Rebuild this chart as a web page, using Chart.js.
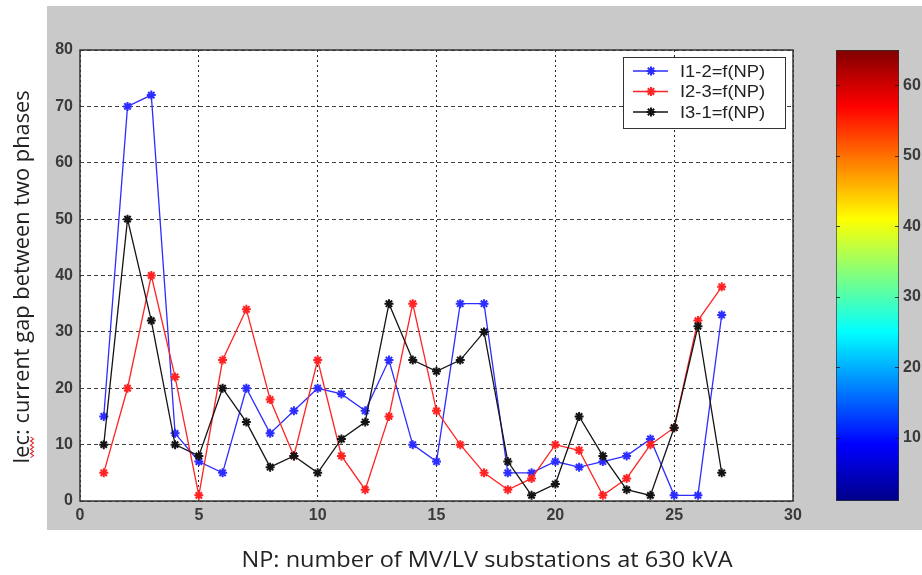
<!DOCTYPE html>
<html>
<head>
<meta charset="utf-8">
<script src="https://cdn.jsdelivr.net/npm/chart.js@4.4.1/dist/chart.umd.min.js"></script>
<style>
  html, body { margin: 0; padding: 0; background: #fff; }
  #wrap { position: relative; width: 922px; height: 575px; overflow: hidden; }
  #main { position: absolute; left: 0; top: 0; }
  #cbar { position: absolute; left: 800px; top: 0; }
</style>
</head>
<body>
<div id="wrap">
  <canvas id="main" width="922" height="575"></canvas>
  <canvas id="cbar" width="122" height="575"></canvas>
</div>
<script>
// Number of MV/LV substations (x values)
const np = [1, 2, 3, 4, 5, 6, 7, 8, 9, 10, 11, 12, 13, 14, 15, 16, 17, 18, 19, 20, 21, 22, 23, 24, 25, 26, 27];
// Current gap between phases for each substation count
const i12 = [15, 70, 72, 12, 7, 5, 20, 12, 16, 20, 19, 16, 25, 10, 7, 35, 35, 5, 5, 7, 6, 7, 8, 11, 1, 1, 33];
const i23 = [5, 20, 40, 22, 1, 25, 34, 18, 8, 25, 8, 2, 15, 35, 16, 10, 5, 2, 4, 10, 9, 1, 4, 10, 13, 32, 38];
const i31 = [10, 50, 32, 10, 8, 20, 14, 6, 8, 5, 11, 14, 35, 25, 23, 25, 30, 7, 1, 3, 15, 8, 2, 1, 13, 31, 5];
const seriesLabels = ['I1-2=f(NP)', 'I2-3=f(NP)', 'I3-1=f(NP)'];

// Axis ranges and ticks
const xRange = [0, 30];
const xStep = 5;
const yRange = [0, 80];
const yStep = 10;

// Colour bar (jet colormap) range and tick labels
const cbRange = [1, 65];
const cbTicks = [10, 20, 30, 40, 50, 60];
const jetStops = [[0, '#000088'], [0.125, '#0000ff'], [0.375, '#00ffff'], [0.625, '#ffff00'], [0.875, '#ff0000'], [1, '#800000']];

const xTitle = 'NP: number of MV/LV substations at 630 kVA';
const yTitle = 'Iec: current gap between two phases';

const tickFont = { family: 'Liberation Sans', size: 16, weight: 'bold' };
const tickColor = '#3a3a3a';

const toPoints = ys => np.map((x, i) => ({ x, y: ys[i] }));

function series(label, ys, color, order) {
  return {
    label, data: toPoints(ys), order,
    borderColor: color, backgroundColor: color,
    borderWidth: 1.3, showLine: true, tension: 0,
    pointStyle: 'star', pointRadius: 4.5, pointBorderWidth: 2,
    pointBorderColor: color, pointBackgroundColor: color
  };
}

// Grey figure background, white axes area and the box around it
const figureFrame = {
  id: 'figureFrame',
  beforeDraw(chart) {
    const { ctx, chartArea: a } = chart;
    ctx.save();
    ctx.fillStyle = '#ffffff';
    ctx.fillRect(0, 0, chart.width, chart.height);
    ctx.fillStyle = '#c9c9c9';
    ctx.fillRect(47, 6, chart.width - 47, 524);
    ctx.fillStyle = '#ffffff';
    ctx.fillRect(a.left, a.top, a.right - a.left, a.bottom - a.top);
    ctx.restore();
  },
  beforeDatasetsDraw(chart) {
    const { ctx, chartArea: a } = chart;
    ctx.save();
    ctx.strokeStyle = '#333';
    ctx.lineWidth = 1.5;
    ctx.strokeRect(a.left, a.top, a.right - a.left, a.bottom - a.top);
    ctx.restore();
  }
};

// Boxed legend in the upper right corner of the axes: line + marker + label
const boxLegend = {
  id: 'boxLegend',
  afterDatasetsDraw(chart) {
    const { ctx, chartArea: a } = chart;
    const x0 = a.right - 170, y0 = a.top + 7, w = 162, h = 71;
    ctx.save();
    ctx.fillStyle = '#fff';
    ctx.fillRect(x0, y0, w, h);
    ctx.strokeStyle = '#333';
    ctx.lineWidth = 1;
    ctx.strokeRect(x0 + 0.5, y0 + 0.5, w, h);
    ctx.font = '17px "Liberation Sans"';
    ctx.textBaseline = 'middle';
    chart.data.datasets.forEach((ds, i) => {
      const y = y0 + 14 + i * 20.5;
      ctx.strokeStyle = ds.borderColor;
      ctx.lineWidth = 1.3;
      ctx.beginPath();
      ctx.moveTo(x0 + 10, y);
      ctx.lineTo(x0 + 45, y);
      ctx.stroke();
      ctx.lineWidth = 2;
      Chart.helpers.drawPoint(ctx, { pointStyle: 'star', radius: 4.5, borderWidth: 2, rotation: 0 }, x0 + 28, y);
      ctx.fillStyle = '#222';
      ctx.save();
      ctx.translate(x0 + 57, y + 1);
      ctx.scale(1.08, 1);
      ctx.fillText(ds.label, 0, 0);
      ctx.restore();
    });
    ctx.restore();
  }
};

// Axis titles (the x title sits under the whole figure, the y title left of it)
const axisTitles = {
  id: 'axisTitles',
  afterDraw(chart) {
    const { ctx } = chart;
    ctx.save();
    ctx.fillStyle = '#222';
    ctx.textAlign = 'center';
    ctx.textBaseline = 'middle';

    ctx.save();
    ctx.translate(487, 561);
    ctx.scale(1.07, 1);
    ctx.font = '22px "Open Sans"';
    ctx.fillText(xTitle, 0, 0);
    ctx.restore();

    ctx.translate(23, 277);
    ctx.rotate(-Math.PI / 2);
    ctx.scale(1.04, 1);
    ctx.font = '21px "Open Sans"';
    ctx.fillText(yTitle, 0, 0);
    // red wavy underline under "ec" (spell-check mark)
    const full = ctx.measureText(yTitle).width;
    const start = -full / 2 + ctx.measureText('I').width;
    const end = -full / 2 + ctx.measureText('Iec').width;
    ctx.strokeStyle = '#e02020';
    ctx.lineWidth = 1;
    ctx.beginPath();
    for (let x = start, k = 0; x <= end; x += 2, k++) {
      const y = 9 + (k % 2 ? 1.5 : -1.5);
      if (k === 0) ctx.moveTo(x, y); else ctx.lineTo(x, y);
    }
    ctx.stroke();
    ctx.restore();
  }
};

new Chart(document.getElementById('main'), {
  type: 'scatter',
  data: {
    datasets: [
      series(seriesLabels[0], i12, 'rgb(45,45,255)', 2),
      series(seriesLabels[1], i23, 'rgb(255,35,35)', 1),
      series(seriesLabels[2], i31, 'rgb(20,20,20)', 0)
    ]
  },
  options: {
    responsive: false,
    animation: false,
    devicePixelRatio: 1,
    layout: { padding: { left: 0, top: 50, right: 129, bottom: 0 } },
    plugins: { legend: { display: false }, tooltip: { enabled: false } },
    scales: {
      x: {
        type: 'linear', min: xRange[0], max: xRange[1],
        afterFit: s => { s.height = 74; },
        ticks: { stepSize: xStep, padding: 5, font: tickFont, color: tickColor },
        grid: { color: 'rgba(0,0,0,0.85)', lineWidth: 1, drawTicks: false },
        border: { display: false, dash: [2, 3] }
      },
      y: {
        type: 'linear', min: yRange[0], max: yRange[1],
        afterFit: s => { s.width = 80; },
        ticks: { stepSize: yStep, padding: 7, font: tickFont, color: tickColor },
        grid: { color: 'rgba(0,0,0,0.75)', lineWidth: 1, drawTicks: false },
        border: { display: false, dash: [4, 3] }
      }
    }
  },
  plugins: [figureFrame, boxLegend, axisTitles]
});

// Colour bar drawn as a single floating bar filled with the jet gradient
function jetGradient(context) {
  const { chart } = context;
  const a = chart.chartArea;
  if (!a) return '#0000ff';
  const g = chart.ctx.createLinearGradient(0, a.bottom, 0, a.top);
  jetStops.forEach(([p, c]) => g.addColorStop(p, c));
  return g;
}

const cbTickMarks = {
  id: 'cbTickMarks',
  afterDatasetsDraw(chart) {
    const { ctx, chartArea: a, scales: { y } } = chart;
    ctx.save();
    ctx.strokeStyle = 'rgba(20,20,20,0.8)';
    ctx.lineWidth = 1;
    cbTicks.forEach(v => {
      const py = Math.round(y.getPixelForValue(v)) + 0.5;
      ctx.beginPath();
      ctx.moveTo(a.left, py); ctx.lineTo(a.left + 4, py);
      ctx.moveTo(a.right, py); ctx.lineTo(a.right - 4, py);
      ctx.stroke();
    });
    ctx.restore();
  }
};

new Chart(document.getElementById('cbar'), {
  type: 'bar',
  data: {
    labels: [''],
    datasets: [{
      data: [cbRange],
      backgroundColor: jetGradient,
      borderColor: '#333',
      borderWidth: 1,
      borderSkipped: false,
      barPercentage: 1,
      categoryPercentage: 1
    }]
  },
  options: {
    responsive: false,
    animation: false,
    devicePixelRatio: 1,
    layout: { padding: { left: 36, top: 50, right: 0, bottom: 74 } },
    plugins: { legend: { display: false }, tooltip: { enabled: false } },
    scales: {
      x: { display: false },
      y: {
        position: 'right', min: cbRange[0], max: cbRange[1],
        afterFit: s => { s.width = 23; },
        afterBuildTicks: s => { s.ticks = cbTicks.map(v => ({ value: v })); },
        ticks: { padding: 4, font: tickFont, color: tickColor },
        grid: { display: false, drawTicks: false },
        border: { display: false }
      }
    }
  },
  plugins: [cbTickMarks]
});
</script>
</body>
</html>
